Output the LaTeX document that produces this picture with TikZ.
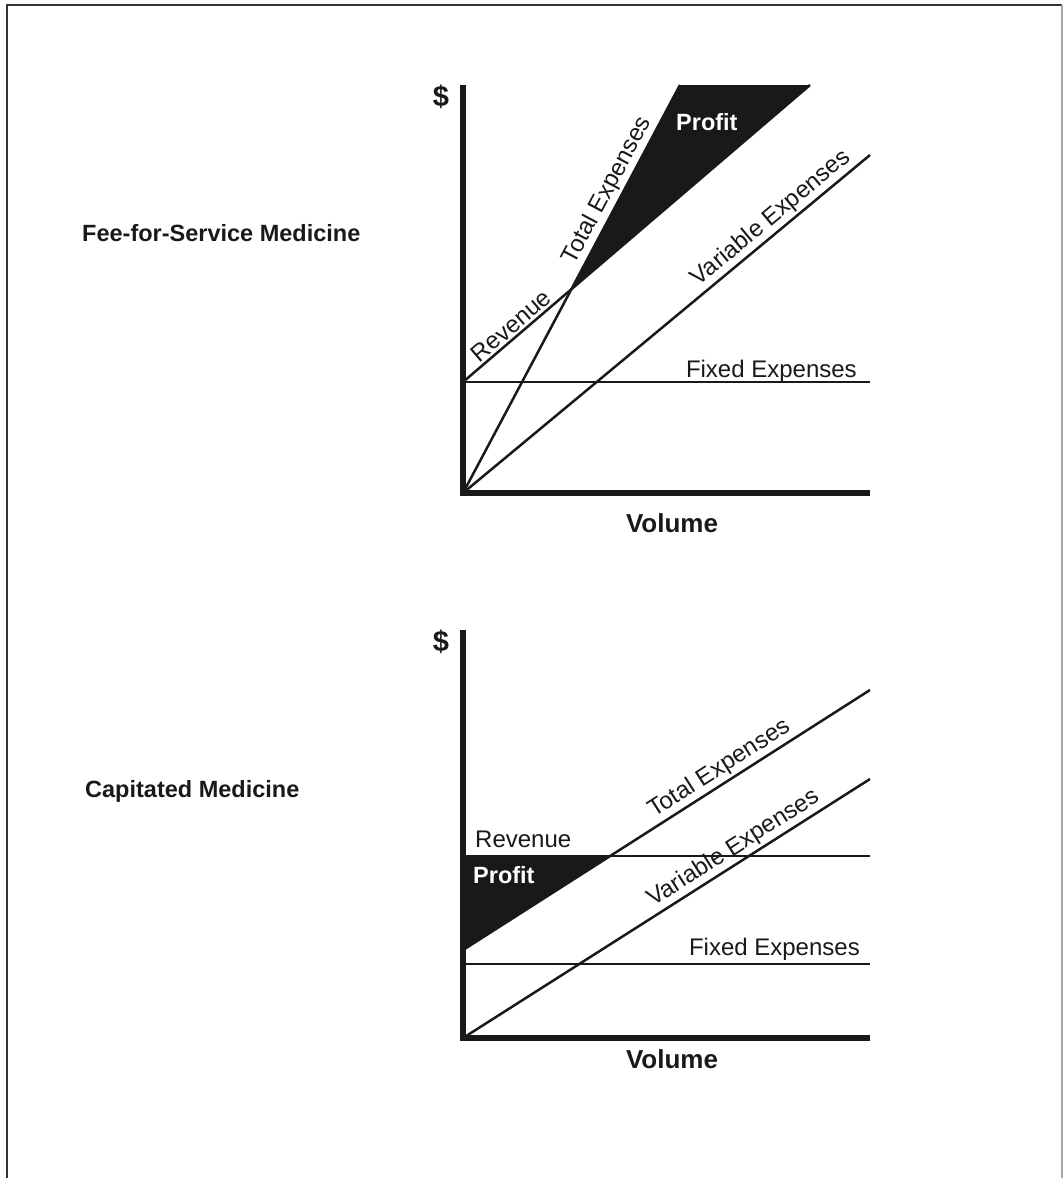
\documentclass[tikz,border=0pt]{standalone}
\usepackage{fontspec}
\setmainfont{Liberation Sans}
\begin{document}
\begin{tikzpicture}[x=1pt,y=-1pt,
	axis/.style={line width=5.5pt, line join=miter, black!90},
	curve/.style={line width=2.5pt, black!90},
	txt/.style={font=\fontsize{24}{28}\selectfont, text=black!90, inner sep=2pt},
	bold/.style={font=\bfseries\fontsize{23.5}{28}\selectfont, text=black!90, inner sep=0pt}]

\useasboundingbox (0,0) rectangle (1063,1178);

% frame
\draw[line width=2.5pt, black!80] (7,1178) -- (7,5) -- (1062,5);
\draw[line width=1.5pt, black!35] (1062,5) -- (1062,1178);

% axes
\foreach \i/\t/\b/\v in {1/85/493/532, 2/630/1038/1068}{
	\draw[axis] (463,\t) -- (463,\b) -- (870,\b);
	\node[bold, font=\bfseries\fontsize{29}{32}\selectfont] (dollar\i) at (441,\t+12) {\$};
	\node[bold, font=\bfseries\fontsize{26}{30}\selectfont, anchor=base] (volume\i) at (672,\v) {Volume};
}

% fee-for-service
\node[bold, anchor=base west] (fee) at (82,241) {Fee-for-Service Medicine};
\coordinate (o1) at (463,493);
\coordinate (rev1a) at (463,382);
\coordinate (rev1b) at (810,85);
\coordinate (tot1) at (680,85);
\coordinate (var1) at (870,155);
\coordinate (fix1) at (870,382);
\coordinate (be1) at (intersection of rev1a--rev1b and o1--tot1);
\fill[black!90] (be1) -- (tot1) -- (rev1b) -- cycle;
\draw[curve] (rev1a) -- (fix1) node[txt, anchor=base east, pos=1, xshift=-10pt, yshift=5pt] (fixlbl1) {Fixed Expenses};
\draw[curve] (rev1a) -- (rev1b) node[txt, pos=0.16, sloped, above] (revlbl1) {Revenue};
\draw[curve] (o1) -- (tot1) node[txt, pos=0.725, sloped, above] (totlbl1) {Total Expenses};
\draw[curve] (o1) -- (var1) node[txt, pos=0.78, sloped, above] (varlbl1) {Variable Expenses};
\node[bold, text=white, anchor=base west] (profit1) at (676,130) {Profit};

% capitated
\node[bold, anchor=base west] (cap) at (85,797) {Capitated Medicine};
\coordinate (o2) at (463,1038);
\coordinate (rev2a) at (463,856);
\coordinate (rev2b) at (870,856);
\coordinate (tot2a) at (463,950);
\coordinate (tot2b) at (870,690);
\coordinate (var2) at (870,779);
\coordinate (fix2a) at (463,964);
\coordinate (fix2b) at (870,964);
\coordinate (be2) at (intersection of rev2a--rev2b and tot2a--tot2b);
\fill[black!90] (rev2a) -- (be2) -- (tot2a) -- cycle;
\draw[curve] (rev2a) -- (rev2b);
\node[txt, anchor=base west, inner sep=0pt] (revlbl2) at (475,847) {Revenue};
\draw[curve] (fix2a) -- (fix2b);
\node[txt, anchor=base east, inner sep=0pt] (fixlbl2) at (860,955) {Fixed Expenses};
\draw[curve] (tot2a) -- (tot2b) node[txt, pos=0.65, sloped, above] (totlbl2) {Total Expenses};
\draw[curve] (o2) -- (var2) node[txt, pos=0.685, sloped, above] (varlbl2) {Variable Expenses};
\node[bold, text=white, anchor=base west] (profit2) at (473,883) {Profit};

\end{tikzpicture}
\end{document}
